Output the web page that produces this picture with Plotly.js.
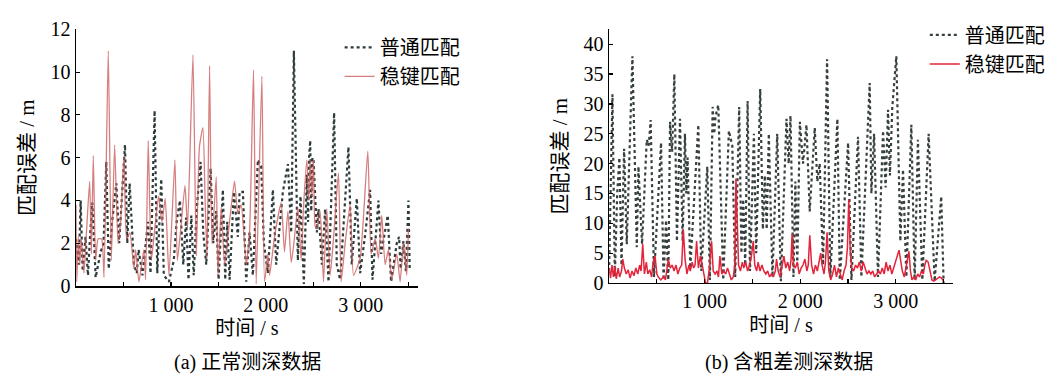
<!DOCTYPE html>
<html>
<head>
<meta charset="utf-8">
<script src="https://cdn.plot.ly/plotly-3.0.1.min.js"></script>
<style>html,body{margin:0;padding:0;background:#fff;}#chart{width:1063px;height:386px;}</style>
</head>
<body>
<div id="chart"></div>
<script>
// ---- Panel (a): 正常测深数据 ----
const timeNormalA = [0,30,49,70,100,126,150,172,207,260,290,319,345,380,425,455,516,540,565,610,640,660,700,730,758,785,828,856,898,925,979,1030,1060,1095,1130,1160,1185,1215,1240,1270,1312,1340,1372,1418,1445,1477,1502,1547,1572,1593,1618,1663,1705,1723,1758,1793,1828,1863,1916,1951,1979,2021,2074,2109,2179,2232,2267,2295,2337,2365,2400,2432,2445,2455,2467,2478,2490,2502,2537,2554,2590,2625,2660,2719,2747,2782,2818,2870,2905,2958,2993,3046,3098,3123,3186,3214,3284,3319,3379,3403,3420,3449,3475,3502,3515];
const errNormalA  = [2.2,1.0,4.0,0.7,2.3,0.5,2.5,3.9,0.4,1.6,2.0,5.8,0.8,3.0,4.8,2.0,6.6,2.0,4.8,1.0,0.6,1.7,0.5,1.8,3.0,0.6,8.2,0.6,5.0,0.5,0.2,1.2,3.0,4.0,1.0,3.2,0.3,3.3,0.5,3.5,5.8,2.5,1.0,5.5,2.0,3.5,0.3,4.5,0.3,3.0,0.3,4.4,2.3,4.4,4.4,0.2,2.5,0.5,5.9,5.6,2.0,0.6,4.5,1.0,4.4,5.7,2.5,11.0,1.2,4.2,0.1,5.2,3.0,6.0,6.8,3.5,6.0,5.9,2.5,3.6,1.0,3.6,0.2,8.1,1.0,0.3,2.9,6.5,1.0,4.1,0.6,2.4,4.5,0.3,4.0,1.5,3.3,0.2,2.0,2.3,0.8,2.1,0.7,4.0,0.8];

const timeRobustA = [0,8,25,40,55,84,110,144,162,182,207,232,270,295,340,372,407,442,470,505,533,568,610,628,663,715,733,761,793,828,870,905,940,979,1042,1067,1100,1148,1175,1232,1267,1300,1337,1360,1380,1407,1432,1477,1495,1530,1565,1617,1670,1705,1740,1793,1828,1870,1898,1958,1986,2021,2039,2091,2161,2196,2232,2267,2295,2337,2372,2397,2432,2450,2467,2485,2502,2519,2537,2572,2607,2642,2677,2712,2765,2793,2835,2888,2923,2993,3074,3109,3151,3186,3221,3256,3291,3326,3379,3414,3449,3484,3502];
const errRobustA  = [3.8,0.2,2.3,1.0,2.2,0.6,2.5,4.9,1.5,6.1,1.2,2.2,2.2,0.4,11.0,1.2,6.6,2.0,3.0,6.1,2.2,2.5,0.8,1.7,0.2,1.7,0.3,6.8,1.2,2.6,4.2,3.0,4.1,0.5,5.9,1.2,2.5,4.7,2.7,10.8,1.4,6.5,7.4,4.0,1.3,10.3,2.0,5.1,0.5,3.7,1.0,3.0,4.9,3.4,3.8,1.0,2.5,10.1,0.1,9.8,0.2,1.5,0.5,2.3,3.9,1.6,3.5,1.1,2.0,3.7,1.2,3.7,5.9,4.0,5.9,4.2,5.9,2.8,2.7,3.5,0.2,3.6,0.5,2.2,5.3,0.2,2.0,3.8,0.5,1.3,6.3,1.5,2.2,1.3,3.3,1.0,1.7,0.3,1.5,0.2,2.0,0.5,2.7];

// ---- Panel (b): 含粗差测深数据 ----
const timeNormalB = [0,35,60,85,108,130,157,185,244,290,307,345,394,415,435,470,544,570,596,620,638,660,683,710,742,770,794,808,822,850,934,965,1028,1055,1084,1100,1115,1143,1195,1254,1290,1320,1362,1385,1404,1425,1450,1475,1516,1540,1582,1610,1630,1650,1672,1710,1760,1798,1857,1880,1899,1930,1950,1970,1997,2030,2066,2100,2153,2180,2205,2240,2282,2316,2390,2415,2502,2537,2606,2641,2728,2746,2774,2815,2868,2895,2920,2940,2965,3007,3049,3077,3112,3164,3199,3233,3279,3345,3408,3477,3502];
const errNormalB  = [2,31.6,1,15,21,3,22.5,6.5,38,6,19.5,6.5,24,23,27.3,1,23.5,0.5,10.5,0.5,27,22,35,7,27.5,7,25,15,21,2.5,26.5,2,19.5,0.5,29.5,25,28,29.8,0.5,25.5,23,1,29.5,5,14,3,30.5,2,25,5,32.5,9,18,9,25,1,25,0.3,27.5,20,28,1,17,3,27,20,26.5,12,26,17,20,3,37.5,1,27.5,0.5,23.5,0.5,24.5,1,33.5,15,25,1,25.5,16,29,18,29.5,38,7,19,1,26.5,0.5,24,0.5,25,0.3,14.5,0];

const timeRobustB = [0,15,30,45,60,75,95,110,130,143,160,180,200,220,240,260,280,300,320,335,352,370,390,405,425,445,460,481,500,515,540,570,590,605,620,640,660,680,700,720,740,760,777,795,815,835,850,870,885,900,916,935,955,975,995,1010,1030,1050,1073,1090,1110,1130,1145,1160,1180,1200,1220,1240,1260,1280,1300,1315,1328,1340,1355,1375,1395,1410,1430,1450,1470,1490,1509,1525,1545,1560,1580,1600,1620,1640,1660,1680,1700,1720,1740,1753,1770,1790,1810,1830,1850,1870,1890,1905,1916,1930,1950,1970,1990,2010,2030,2050,2070,2085,2101,2120,2140,2160,2180,2200,2215,2230,2250,2265,2282,2300,2320,2340,2360,2380,2400,2420,2440,2460,2480,2495,2509,2525,2540,2560,2580,2600,2620,2640,2660,2680,2700,2720,2740,2760,2780,2800,2820,2840,2860,2880,2900,2920,2940,2960,2980,3000,3015,3035,3055,3070,3090,3105,3125,3139,3155,3170,3190,3210,3230,3250,3270,3290,3305,3320,3340,3360,3380,3400,3420,3440,3460,3480,3500];
const errRobustB  = [2.5,0.8,3.0,1.0,2.8,0.7,2.5,1.0,2.0,4.0,2.5,1.5,2.2,0.8,2.0,1.2,2.5,1.5,3.0,2.0,6.5,1.5,3.5,1.5,2.2,1.0,3.5,4.5,1.5,1.0,0.5,1.0,0.5,2.0,4.0,2.5,3.0,2.0,3.0,1.5,2.5,3.0,9.0,4.0,1.5,3.0,2.0,3.5,2.5,3.0,7.0,2.5,4.5,3.0,1.0,0.0,0.0,2.5,7.0,2.0,1.5,2.0,1.0,4.5,1.5,2.0,1.5,2.5,1.5,0.5,1.0,3.0,17.5,10.0,3.0,2.0,3.5,2.5,3.5,2.0,3.0,4.5,7.0,3.0,2.0,3.5,2.0,3.0,2.0,1.5,2.0,1.0,1.5,1.0,2.0,4.0,2.0,1.0,3.0,4.5,2.5,3.5,2.0,4.0,8.3,3.0,2.5,3.5,1.5,2.5,3.0,4.0,2.0,3.0,8.0,3.0,1.5,3.0,2.0,4.0,5.0,3.0,1.5,3.5,8.5,2.0,0.5,1.5,3.0,1.0,2.5,1.5,0.5,2.0,3.0,6.0,14.0,5.0,2.5,2.0,3.0,2.5,3.5,2.0,3.5,2.5,1.5,2.0,1.5,2.0,1.0,1.5,2.0,1.5,2.5,1.5,3.5,2.0,3.0,1.5,2.5,3.5,4.5,5.5,3.5,2.0,1.0,2.5,4.0,5.3,2.0,0.5,1.0,0.5,1.5,1.0,2.0,1.5,3.0,3.8,3.5,2.0,0.5,0.3,0.5,0.8,1.0,0.8,0.3];

const seriesNames = ['普通匹配', '稳键匹配'];
const xTickVals = [500, 1000, 1500, 2000, 2500, 3000, 3500];
const xTickText = ['', '1 000', '', '2 000', '', '3 000', ''];
const captions = ['(a) 正常测深数据', '(b) 含粗差测深数据'];

const FONT = "'Liberation Serif', 'Times New Roman', 'Noto Sans CJK SC', serif";

const traces = [
  {x: timeNormalA, y: errNormalA, xaxis: 'x', yaxis: 'y', name: seriesNames[0], mode: 'lines',
   line: {color: '#2d3b3b', width: 2.2, dash: 'dot'}, legend: 'legend'},
  {x: timeRobustA, y: errRobustA, xaxis: 'x', yaxis: 'y', name: seriesNames[1], mode: 'lines',
   line: {color: 'rgba(205,95,95,0.8)', width: 1.3, shape: 'spline', smoothing: 0.5}, legend: 'legend'},
  {x: timeNormalB, y: errNormalB, xaxis: 'x2', yaxis: 'y2', name: seriesNames[0], mode: 'lines',
   line: {color: '#36403f', width: 2.2, dash: 'dot'}, legend: 'legend2'},
  {x: timeRobustB, y: errRobustB, xaxis: 'x2', yaxis: 'y2', name: seriesNames[1], mode: 'lines',
   line: {color: '#e3243b', width: 1.5}, legend: 'legend2'}
];

const axisCommon = {
  showgrid: false, zeroline: false, showline: true, linecolor: '#000', linewidth: 1.5,
  ticks: 'inside', ticklen: 4, tickwidth: 1.2, tickcolor: '#000',
  tickfont: {family: FONT, size: 20, color: '#000'}
};

const layout = {
  width: 1063, height: 386,
  margin: {l: 0, r: 0, t: 0, b: 0},
  paper_bgcolor: '#ffffff', plot_bgcolor: '#ffffff',
  font: {family: FONT, size: 20, color: '#000'},
  xaxis: Object.assign({}, axisCommon, {domain: [0.0715, 0.393], range: [0, 3600], anchor: 'y',
    tickmode: 'array', tickvals: xTickVals, ticktext: xTickText,
    title: {text: '时间 / s', standoff: 6, font: {family: FONT, size: 20}}}),
  yaxis: Object.assign({}, axisCommon, {domain: [0.259, 0.924], range: [0, 12], anchor: 'x',
    dtick: 2, tick0: 0,
    title: {text: '匹配误差 / m', standoff: 10, font: {family: FONT, size: 21}}}),
  xaxis2: Object.assign({}, axisCommon, {domain: [0.573, 0.8965], range: [0, 3600], anchor: 'y2',
    tickmode: 'array', tickvals: xTickVals, ticktext: xTickText,
    title: {text: '时间 / s', standoff: 6, font: {family: FONT, size: 20}}}),
  yaxis2: Object.assign({}, axisCommon, {domain: [0.267, 0.924], range: [0, 42.5], anchor: 'x2',
    dtick: 5, tick0: 0,
    title: {text: '匹配误差 / m', standoff: 10, font: {family: FONT, size: 21}}}),
  legend: {x: 0.3195, y: 0.928, xanchor: 'left', yanchor: 'top', bgcolor: 'rgba(0,0,0,0)',
    font: {family: FONT, size: 20}, itemwidth: 30, tracegroupgap: 0},
  legend2: {x: 0.87, y: 0.96, xanchor: 'left', yanchor: 'top', bgcolor: 'rgba(0,0,0,0)',
    font: {family: FONT, size: 20}, itemwidth: 30, tracegroupgap: 0},
  annotations: [
    {text: captions[0], xref: 'paper', yref: 'paper', x: 247 / 1063, y: (386 - 362) / 386,
     showarrow: false, xanchor: 'center', yanchor: 'middle', font: {family: FONT, size: 20}},
    {text: captions[1], xref: 'paper', yref: 'paper', x: 789 / 1063, y: (386 - 362) / 386,
     showarrow: false, xanchor: 'center', yanchor: 'middle', font: {family: FONT, size: 20}}
  ],
  showlegend: true
};

Plotly.newPlot('chart', traces, layout, {staticPlot: true, displayModeBar: false});
</script>
</body>
</html>
